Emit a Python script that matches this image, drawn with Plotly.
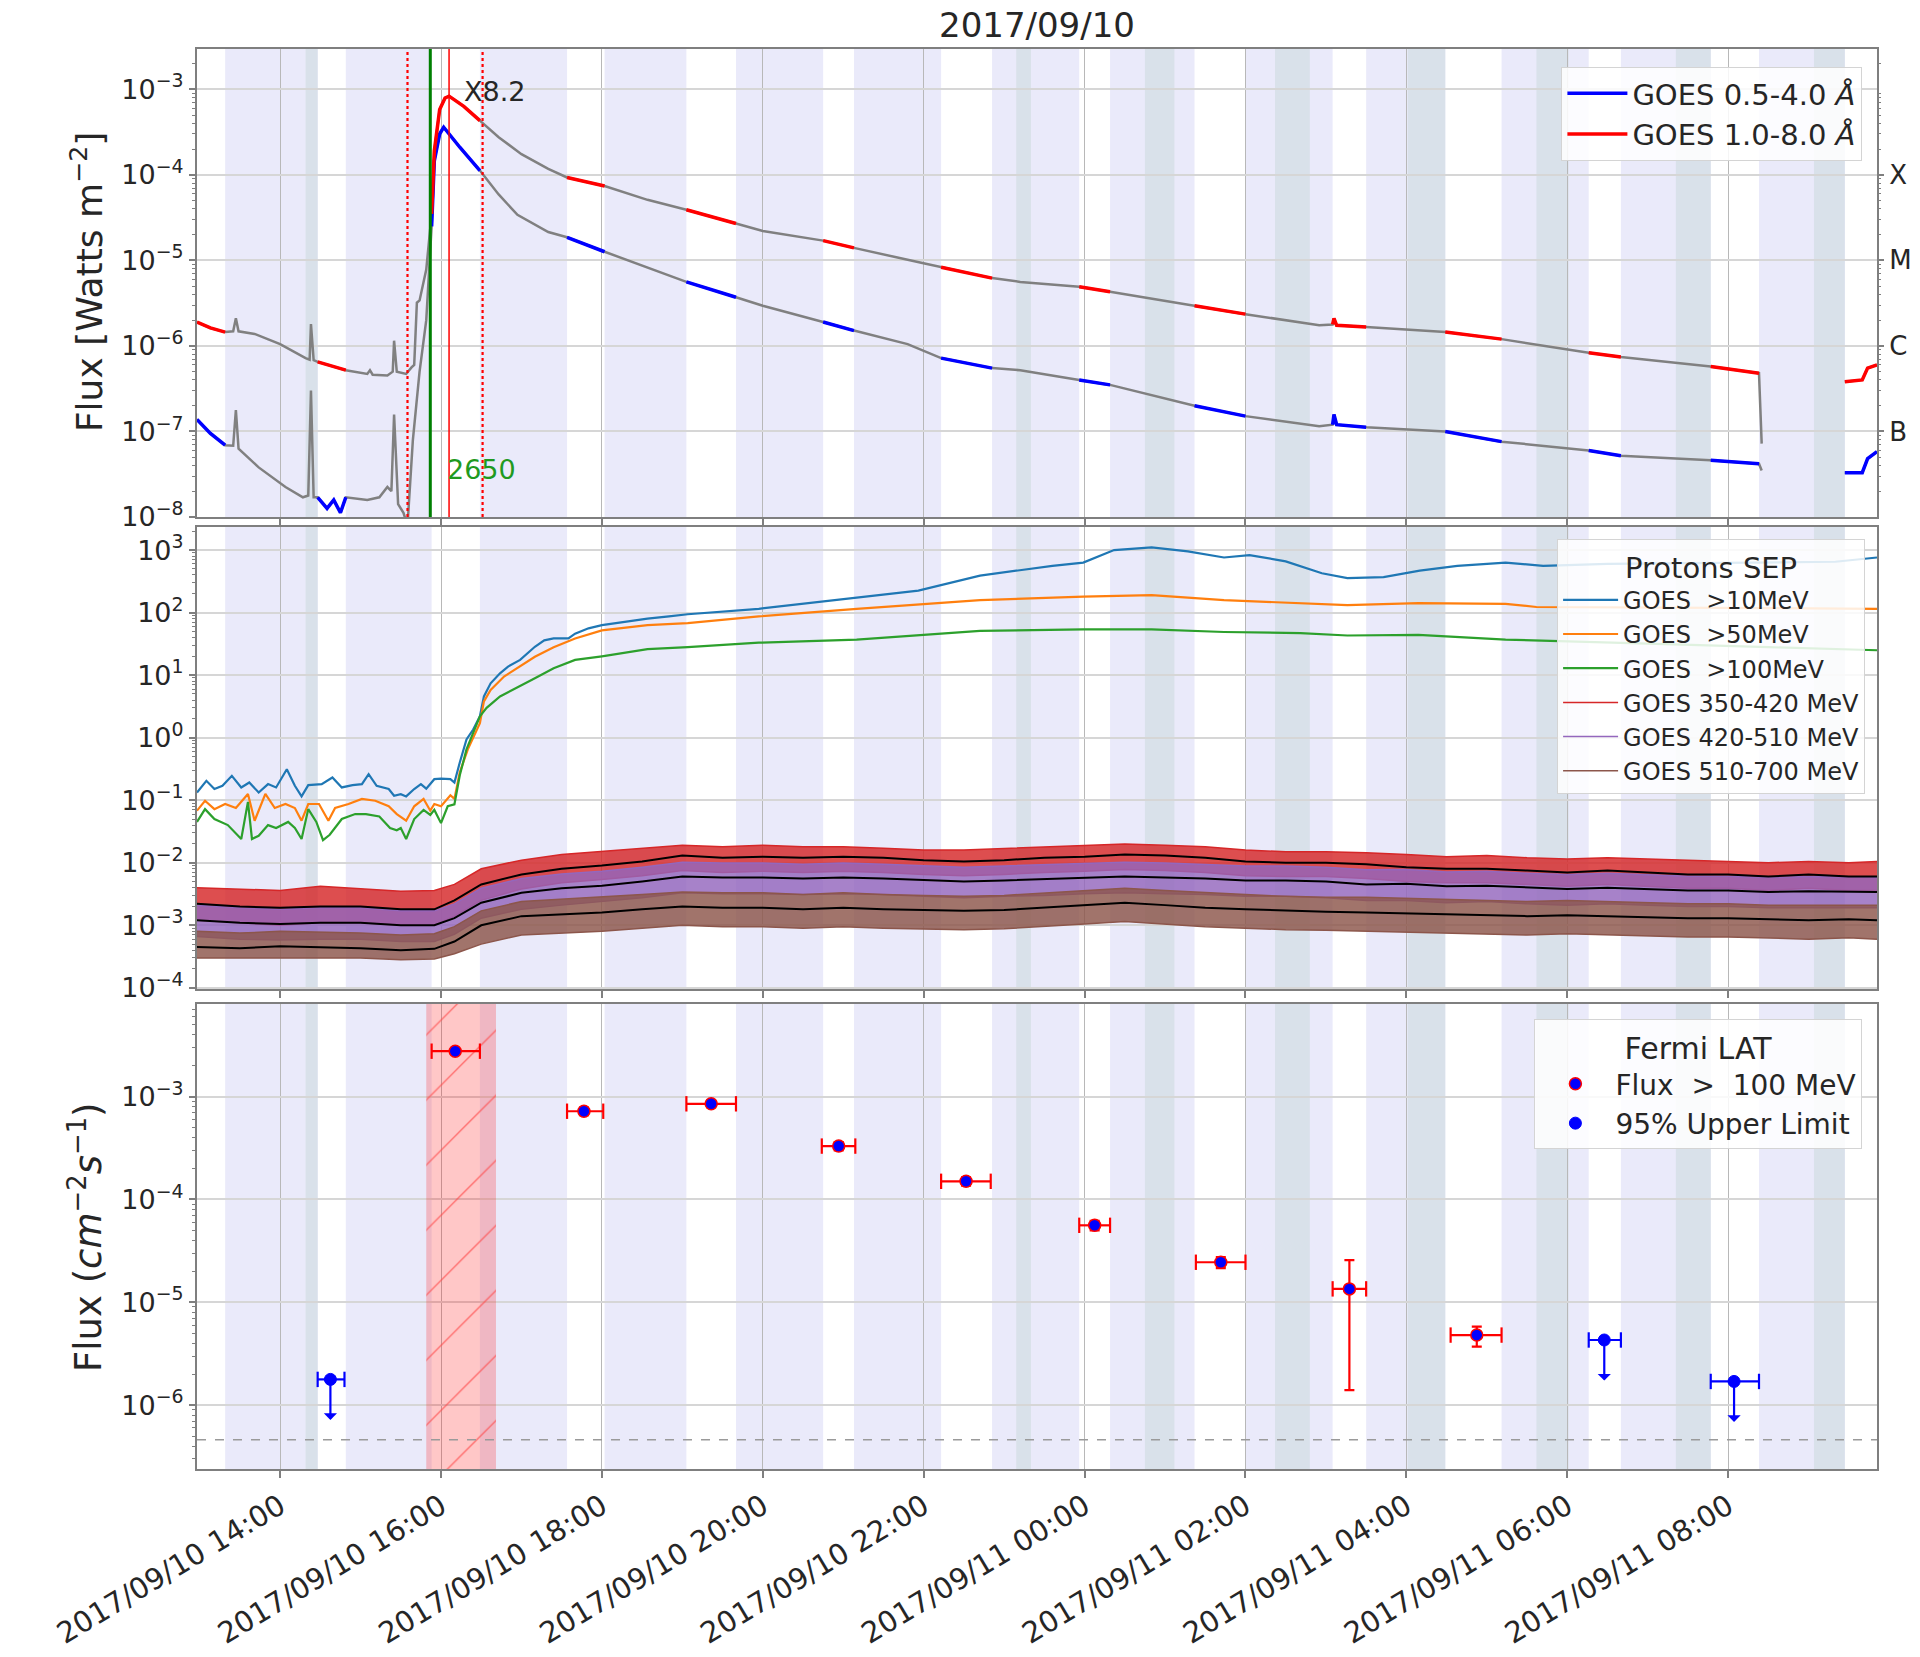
import math
import pandas as pd
import plotly.graph_objects as go

# ----------------------------------------------------------------- data
# times written as "DD HH:MM" in September 2017
X_RANGE = ["10 12:58", "11 09:51"]
TICK0 = "10 14:00"

# Fermi-LAT occultation (lavender) and SAA (grey-blue) intervals
occult_start = ["10 13:19", "10 14:49", "10 16:29", "10 18:02", "10 19:40", "10 21:08", "10 22:51",
                "11 00:19", "11 02:00", "11 03:30", "11 05:11", "11 06:40", "11 08:23"]
occult_end = ["10 14:28", "10 15:53", "10 17:34", "10 19:03", "10 20:45", "10 22:13", "10 23:56",
              "11 01:22", "11 03:05", "11 04:29", "11 06:16", "11 07:47", "11 09:27"]
saa_start = ["10 14:19", "10 23:09", "11 00:45", "11 02:22", "11 04:01", "11 05:37", "11 07:21", "11 09:04"]
saa_end = ["10 14:28", "10 23:20", "11 01:07", "11 02:48", "11 04:29", "11 06:01", "11 07:47", "11 09:27"]

# flare markers
flare_start, flare_peak, flare_end = "10 15:35", "10 16:06", "10 16:31"
green_time, green_label = "10 15:52", "2650"
flare_class = "X8.2"

# GOES X-ray 1.0-8.0 A
goes_long_time = ["10 12:58", "10 13:08", "10 13:19", "10 13:25", "10 13:27", "10 13:29", "10 13:41", "10 14:00",
                  "10 14:19", "10 14:22", "10 14:23", "10 14:25", "10 14:28", "10 14:49", "10 15:05", "10 15:07",
                  "10 15:09", "10 15:20", "10 15:24", "10 15:25", "10 15:27", "10 15:34", "10 15:38", "10 15:40",
                  "10 15:42", "10 15:44", "10 15:49", "10 15:53", "10 15:55", "10 15:59", "10 16:03", "10 16:06",
                  "10 16:12", "10 16:17", "10 16:29", "10 16:43", "10 17:00", "10 17:20", "10 17:34", "10 18:02",
                  "10 18:34", "10 19:03", "10 19:40", "10 20:00", "10 20:45", "10 21:08", "10 21:59", "10 22:13",
                  "10 22:51", "10 23:12", "10 23:56", "11 00:19", "11 01:22", "11 02:00", "11 02:55", "11 03:05",
                  "11 03:06", "11 03:08", "11 03:30", "11 04:29", "11 05:11", "11 06:16", "11 06:40", "11 07:47",
                  "11 08:23", "11 08:25", "11 08:50", "11 09:27", "11 09:40", "11 09:44", "11 09:51"]
goes_long_flux = [1.9e-6, 1.62e-6, 1.45e-6, 1.48e-6, 2.1e-6, 1.48e-6, 1.38e-6, 1.05e-6,
                  7.2e-7, 6.9e-7, 1.8e-6, 6.8e-7, 6.5e-7, 5.2e-7, 4.7e-7, 5.2e-7,
                  4.6e-7, 4.5e-7, 5.0e-7, 1.15e-6, 5.0e-7, 4.7e-7, 5.6e-7, 6.0e-7,
                  3.2e-6, 3.4e-6, 7.8e-6, 3.5e-5, 1.9e-4, 5.8e-4, 7.9e-4, 8.3e-4,
                  7.2e-4, 6.3e-4, 4.3e-4, 2.75e-4, 1.74e-4, 1.17e-4, 9.3e-5, 7.4e-5,
                  5.1e-5, 3.9e-5, 2.7e-5, 2.2e-5, 1.7e-5, 1.4e-5, 9.3e-6, 8.3e-6,
                  6.2e-6, 5.6e-6, 4.9e-6, 4.3e-6, 2.95e-6, 2.35e-6, 1.74e-6, 1.78e-6,
                  2.1e-6, 1.74e-6, 1.66e-6, 1.45e-6, 1.2e-6, 8.3e-7, 7.4e-7, 5.75e-7,
                  4.8e-7, 7.2e-8, None, 3.8e-7, 4.0e-7, 5.5e-7, 6.0e-7]

# GOES X-ray 0.5-4.0 A
goes_short_time = ["10 12:58", "10 13:08", "10 13:19", "10 13:25", "10 13:27", "10 13:29", "10 13:44", "10 14:04",
                   "10 14:17", "10 14:21", "10 14:23", "10 14:25", "10 14:28", "10 14:35", "10 14:40", "10 14:45",
                   "10 14:49", "10 15:05", "10 15:14", "10 15:20", "10 15:23", "10 15:25", "10 15:28", "10 15:32",
                   "10 15:35", "10 15:39", "10 15:44", "10 15:49", "10 15:53", "10 15:55", "10 15:59", "10 16:02",
                   "10 16:14", "10 16:29", "10 16:43", "10 16:57", "10 17:20", "10 17:34", "10 18:02", "10 18:31",
                   "10 19:03", "10 19:40", "10 20:00", "10 20:45", "10 21:08", "10 21:48", "10 22:13", "10 22:51",
                   "10 23:12", "10 23:56", "11 00:19", "11 01:22", "11 02:00", "11 02:55", "11 03:05", "11 03:06",
                   "11 03:08", "11 03:30", "11 04:29", "11 05:11", "11 06:16", "11 06:40", "11 07:47", "11 08:23",
                   "11 08:25", "11 08:50", "11 09:27", "11 09:40", "11 09:44", "11 09:51"]
goes_short_flux = [1.38e-7, 9.5e-8, 6.9e-8, 6.8e-8, 1.78e-7, 6.3e-8, 3.8e-8, 2.24e-8,
                   1.7e-8, 1.78e-8, 3.0e-7, 1.7e-8, 1.7e-8, 1.26e-8, 1.58e-8, 1.12e-8,
                   1.7e-8, 1.58e-8, 1.7e-8, 2.24e-8, 2.0e-8, 1.58e-7, 1.41e-8, 1.12e-8,
                   7.9e-9, 7.9e-8, 5.0e-7, 2.0e-6, 2.5e-5, 1.45e-4, 3.0e-4, 3.6e-4,
                   2.1e-4, 1.12e-4, 5.9e-5, 3.4e-5, 2.14e-5, 1.86e-5, 1.26e-5, 8.5e-6,
                   5.6e-6, 3.7e-6, 2.95e-6, 1.9e-6, 1.51e-6, 1.05e-6, 7.2e-7, 5.5e-7,
                   5.2e-7, 4.0e-7, 3.5e-7, 2.0e-7, 1.51e-7, 1.15e-7, 1.2e-7, 1.58e-7,
                   1.2e-7, 1.12e-7, 1.0e-7, 7.6e-8, 6.0e-8, 5.2e-8, 4.6e-8, 4.2e-8,
                   3.5e-8, None, 3.3e-8, 3.3e-8, 4.8e-8, 5.8e-8]

# GOES integral protons
p10_time = ["10 12:58", "10 13:05", "10 13:11", "10 13:17", "10 13:24", "10 13:31", "10 13:37", "10 13:44",
            "10 13:51", "10 13:57", "10 14:05", "10 14:11", "10 14:16", "10 14:21", "10 14:31", "10 14:39",
            "10 14:46", "10 14:54", "10 15:01", "10 15:06", "10 15:12", "10 15:21", "10 15:25", "10 15:30",
            "10 15:34", "10 15:40", "10 15:45", "10 15:49", "10 15:55", "10 16:00", "10 16:07", "10 16:10",
            "10 16:14", "10 16:19", "10 16:24", "10 16:29", "10 16:32", "10 16:37", "10 16:44", "10 16:50",
            "10 16:59", "10 17:10", "10 17:17", "10 17:24", "10 17:35", "10 17:40", "10 17:50", "10 18:00",
            "10 18:17", "10 18:34", "10 18:50", "10 19:04", "10 19:57", "10 21:10", "10 21:56", "10 22:42",
            "10 23:36", "10 23:59", "11 00:22", "11 00:50", "11 01:17", "11 01:44", "11 02:03", "11 02:30",
            "11 02:57", "11 03:16", "11 03:43", "11 04:10", "11 04:38", "11 05:14", "11 05:42", "11 06:30",
            "11 07:30", "11 08:30", "11 09:20", "11 09:51"]
p10_flux = [0.133, 0.204, 0.151, 0.170, 0.245, 0.160, 0.192, 0.133, 0.181, 0.160, 0.313, 0.170, 0.115, 0.174,
            0.181, 0.231, 0.160, 0.174, 0.181, 0.261, 0.170, 0.151, 0.118, 0.125, 0.115, 0.151, 0.181, 0.153,
            0.217, 0.222, 0.217, 0.192, 0.40, 0.94, 1.35, 2.2, 4.57, 7.4, 10.7, 13.7, 17.5, 28.4, 36, 38.6,
            38.6, 46, 56, 63, 71, 80, 87, 94, 115, 175, 225, 390, 560, 630, 1000, 1100, 950, 760, 830, 660,
            425, 355, 370, 470, 560, 630, 560, 600, 620, 640, 650, 760]

p50_time = ["10 12:58", "10 13:04", "10 13:11", "10 13:19", "10 13:27", "10 13:36", "10 13:41", "10 13:49",
            "10 13:56", "10 14:04", "10 14:11", "10 14:16", "10 14:21", "10 14:29", "10 14:36", "10 14:41",
            "10 14:51", "10 15:01", "10 15:11", "10 15:21", "10 15:27", "10 15:34", "10 15:40", "10 15:47",
            "10 15:52", "10 15:55", "10 16:00", "10 16:07", "10 16:10", "10 16:14", "10 16:20", "10 16:29",
            "10 16:32", "10 16:37", "10 16:47", "10 16:59", "10 17:10", "10 17:24", "10 17:40", "10 18:00",
            "10 18:34", "10 19:04", "10 19:57", "10 21:10", "10 22:42", "10 23:59", "11 00:50", "11 01:44",
            "11 02:30", "11 03:16", "11 04:09", "11 05:14", "11 05:37", "11 07:00", "11 08:30", "11 09:51"]
p50_flux = [0.068, 0.098, 0.072, 0.087, 0.075, 0.126, 0.047, 0.126, 0.075, 0.087, 0.075, 0.047, 0.087, 0.087,
            0.047, 0.075, 0.087, 0.105, 0.098, 0.080, 0.060, 0.047, 0.080, 0.105, 0.068, 0.087, 0.080, 0.12,
            0.105, 0.28, 0.65, 1.7, 3.8, 5.8, 9.5, 13.7, 19.7, 28, 38.6, 52, 63, 68, 87, 115, 158, 180, 190,
            158, 145, 132, 142, 138, 123, 122, 118, 115]

p100_time = ["10 12:58", "10 13:04", "10 13:11", "10 13:21", "10 13:31", "10 13:36", "10 13:39", "10 13:44",
             "10 13:51", "10 13:57", "10 14:06", "10 14:11", "10 14:16", "10 14:21", "10 14:27", "10 14:32",
             "10 14:37", "10 14:46", "10 14:56", "10 15:04", "10 15:14", "10 15:22", "10 15:27", "10 15:30",
             "10 15:34", "10 15:40", "10 15:47", "10 15:52", "10 15:55", "10 16:00", "10 16:05", "10 16:10",
             "10 16:14", "10 16:19", "10 16:29", "10 16:34", "10 16:44", "10 16:59", "10 17:10", "10 17:24",
             "10 17:40", "10 18:00", "10 18:34", "10 19:04", "10 19:57", "10 21:10", "10 22:42", "10 23:59",
             "11 00:50", "11 01:44", "11 02:41", "11 03:16", "11 04:09", "11 05:14", "11 05:37", "11 07:00",
             "11 08:30", "11 09:51"]
p100_flux = [0.045, 0.072, 0.050, 0.040, 0.024, 0.094, 0.024, 0.027, 0.040, 0.036, 0.045, 0.036, 0.024, 0.072,
             0.045, 0.023, 0.028, 0.050, 0.060, 0.060, 0.055, 0.036, 0.033, 0.036, 0.024, 0.050, 0.070, 0.058,
             0.070, 0.043, 0.080, 0.086, 0.25, 0.65, 2.2, 3.0, 4.57, 6.6, 8.9, 12.9, 17.5, 20, 26, 28, 33, 37,
             51, 54, 54, 49, 47, 43, 44, 37, 36, 32, 28, 25]

# GOES HEPAD differential channels: running median (black) and spread of the noisy data
hep_time = ["10 12:58", "10 13:30", "10 14:00", "10 14:30", "10 15:00", "10 15:30", "10 15:55", "10 16:10",
            "10 16:30", "10 17:00", "10 17:30", "10 18:00", "10 18:30", "10 19:00", "10 19:30", "10 20:00",
            "10 20:30", "10 21:00", "10 21:30", "10 22:00", "10 22:30", "10 23:00", "10 23:30", "11 00:00",
            "11 00:30", "11 01:00", "11 01:30", "11 02:00", "11 02:30", "11 03:00", "11 03:30", "11 04:00",
            "11 04:30", "11 05:00", "11 05:30", "11 06:00", "11 06:30", "11 07:00", "11 07:30", "11 08:00",
            "11 08:30", "11 09:00", "11 09:30", "11 09:51"]
p350_med = [2.2e-3, 2.0e-3, 1.9e-3, 2.0e-3, 2.0e-3, 1.8e-3, 1.8e-3, 2.5e-3, 4.5e-3, 6.5e-3, 8.0e-3, 9.0e-3,
            1.05e-2, 1.3e-2, 1.2e-2, 1.25e-2, 1.2e-2, 1.25e-2, 1.2e-2, 1.1e-2, 1.05e-2, 1.1e-2, 1.2e-2, 1.25e-2,
            1.35e-2, 1.3e-2, 1.2e-2, 1.05e-2, 1.0e-2, 1.0e-2, 9.5e-3, 8.5e-3, 8.0e-3, 8.0e-3, 7.5e-3, 7.0e-3,
            7.5e-3, 7.0e-3, 6.5e-3, 6.5e-3, 6.0e-3, 6.5e-3, 6.0e-3, 6.0e-3]
p350_hi = [4.0e-3, 3.8e-3, 3.6e-3, 4.2e-3, 3.8e-3, 3.5e-3, 3.6e-3, 4.5e-3, 8.0e-3, 1.1e-2, 1.35e-2, 1.5e-2,
           1.7e-2, 1.9e-2, 1.8e-2, 1.9e-2, 1.8e-2, 1.8e-2, 1.7e-2, 1.6e-2, 1.6e-2, 1.7e-2, 1.8e-2, 1.9e-2,
           2.0e-2, 1.9e-2, 1.8e-2, 1.6e-2, 1.5e-2, 1.5e-2, 1.45e-2, 1.35e-2, 1.25e-2, 1.3e-2, 1.2e-2, 1.15e-2,
           1.2e-2, 1.15e-2, 1.1e-2, 1.05e-2, 1.0e-2, 1.05e-2, 1.0e-2, 1.05e-2]
p350_lo = [1.2e-3, 1.1e-3, 1.0e-3, 1.1e-3, 1.1e-3, 1.0e-3, 1.0e-3, 1.4e-3, 2.5e-3, 3.8e-3, 4.8e-3, 5.4e-3,
           6.2e-3, 7.5e-3, 7.0e-3, 7.3e-3, 7.0e-3, 7.3e-3, 7.0e-3, 6.5e-3, 6.2e-3, 6.5e-3, 7.0e-3, 7.3e-3,
           7.8e-3, 7.5e-3, 7.0e-3, 6.2e-3, 6.0e-3, 6.0e-3, 5.6e-3, 5.0e-3, 4.8e-3, 4.8e-3, 4.5e-3, 4.2e-3,
           4.5e-3, 4.2e-3, 3.9e-3, 3.9e-3, 3.6e-3, 3.9e-3, 3.6e-3, 3.6e-3]
p420_med = [1.2e-3, 1.1e-3, 1.05e-3, 1.1e-3, 1.1e-3, 1.0e-3, 1.0e-3, 1.3e-3, 2.3e-3, 3.3e-3, 3.9e-3, 4.3e-3,
            5.0e-3, 6.0e-3, 5.8e-3, 5.8e-3, 5.6e-3, 5.8e-3, 5.6e-3, 5.3e-3, 5.0e-3, 5.2e-3, 5.5e-3, 5.8e-3,
            6.0e-3, 5.8e-3, 5.6e-3, 5.2e-3, 5.2e-3, 5.0e-3, 4.5e-3, 4.6e-3, 4.2e-3, 4.3e-3, 4.0e-3, 3.8e-3,
            4.0e-3, 3.8e-3, 3.6e-3, 3.6e-3, 3.4e-3, 3.5e-3, 3.4e-3, 3.4e-3]
p420_hi = [2.1e-3, 1.9e-3, 1.8e-3, 1.9e-3, 1.9e-3, 1.7e-3, 1.7e-3, 2.2e-3, 3.9e-3, 5.6e-3, 6.6e-3, 7.3e-3,
           8.5e-3, 1.02e-2, 9.9e-3, 9.9e-3, 9.5e-3, 9.9e-3, 9.5e-3, 9.0e-3, 8.5e-3, 8.9e-3, 9.4e-3, 9.9e-3,
           1.02e-2, 9.9e-3, 9.5e-3, 8.9e-3, 8.9e-3, 8.5e-3, 7.7e-3, 7.8e-3, 7.1e-3, 7.3e-3, 6.8e-3, 6.5e-3,
           6.8e-3, 6.5e-3, 6.1e-3, 6.1e-3, 5.8e-3, 6.0e-3, 5.8e-3, 5.8e-3]
p420_lo = [6.6e-4, 6.0e-4, 5.8e-4, 6.0e-4, 6.0e-4, 5.5e-4, 5.5e-4, 7.2e-4, 1.3e-3, 1.8e-3, 2.1e-3, 2.4e-3,
           2.75e-3, 3.3e-3, 3.2e-3, 3.2e-3, 3.1e-3, 3.2e-3, 3.1e-3, 2.9e-3, 2.75e-3, 2.9e-3, 3.0e-3, 3.2e-3,
           3.3e-3, 3.2e-3, 3.1e-3, 2.9e-3, 2.9e-3, 2.75e-3, 2.5e-3, 2.5e-3, 2.3e-3, 2.4e-3, 2.2e-3, 2.1e-3,
           2.2e-3, 2.1e-3, 2.0e-3, 2.0e-3, 1.9e-3, 1.9e-3, 1.9e-3, 1.9e-3]
p510_med = [4.5e-4, 4.3e-4, 4.6e-4, 4.4e-4, 4.3e-4, 4.0e-4, 4.2e-4, 5.5e-4, 1.0e-3, 1.4e-3, 1.5e-3, 1.6e-3,
            1.8e-3, 2.0e-3, 1.9e-3, 1.9e-3, 1.8e-3, 1.9e-3, 1.8e-3, 1.75e-3, 1.7e-3, 1.75e-3, 1.9e-3, 2.1e-3,
            2.3e-3, 2.1e-3, 1.9e-3, 1.8e-3, 1.7e-3, 1.65e-3, 1.6e-3, 1.55e-3, 1.5e-3, 1.45e-3, 1.4e-3, 1.45e-3,
            1.4e-3, 1.35e-3, 1.3e-3, 1.3e-3, 1.25e-3, 1.2e-3, 1.25e-3, 1.2e-3]
p510_hi = [8.0e-4, 7.5e-4, 8.0e-4, 7.8e-4, 7.5e-4, 7.0e-4, 7.3e-4, 9.5e-4, 1.7e-3, 2.4e-3, 2.6e-3, 2.8e-3,
           3.1e-3, 3.4e-3, 3.3e-3, 3.3e-3, 3.1e-3, 3.3e-3, 3.1e-3, 3.0e-3, 2.9e-3, 3.0e-3, 3.3e-3, 3.6e-3,
           3.9e-3, 3.6e-3, 3.3e-3, 3.1e-3, 2.9e-3, 2.8e-3, 2.8e-3, 2.7e-3, 2.6e-3, 2.5e-3, 2.4e-3, 2.5e-3,
           2.4e-3, 2.3e-3, 2.2e-3, 2.2e-3, 2.1e-3, 2.1e-3, 2.1e-3, 2.1e-3]
p510_lo = [3.0e-4, 3.0e-4, 3.0e-4, 3.0e-4, 3.0e-4, 2.8e-4, 2.9e-4, 3.5e-4, 5.0e-4, 7.0e-4, 7.5e-4, 8.0e-4,
           9.0e-4, 1.0e-3, 9.5e-4, 9.5e-4, 9.0e-4, 9.5e-4, 9.0e-4, 8.8e-4, 8.5e-4, 8.8e-4, 9.5e-4, 1.05e-3,
           1.15e-3, 1.05e-3, 9.5e-4, 9.0e-4, 8.5e-4, 8.3e-4, 8.0e-4, 7.8e-4, 7.5e-4, 7.3e-4, 7.0e-4, 7.3e-4,
           7.0e-4, 6.8e-4, 6.5e-4, 6.5e-4, 6.3e-4, 6.0e-4, 6.3e-4, 6.0e-4]

# Fermi-LAT > 100 MeV light curve
fermi_time = ["10 16:10:36", "10 17:46:36", "10 19:21:30", "10 20:56:36", "10 22:31:36", "11 00:07:30",
              "11 01:41:36", "11 03:17:30", "11 04:52:30"]
fermi_tstart = ["10 15:53", "10 17:34", "10 19:03", "10 20:44", "10 22:13", "10 23:56", "11 01:23",
                "11 03:05", "11 04:33"]
fermi_tstop = ["10 16:29", "10 18:01", "10 19:40", "10 21:09", "10 22:50", "11 00:19", "11 02:00",
               "11 03:30", "11 05:11"]
fermi_flux = [2.76e-3, 7.2e-4, 8.5e-4, 3.3e-4, 1.5e-4, 5.6e-5, 2.45e-5, 1.35e-5, 4.8e-6]
fermi_err_up = [1.5e-4, 6e-5, 6e-5, 3e-5, 1.4e-5, 6e-6, 3e-6, 1.22e-5, 1.0e-6]
fermi_err_dn = [1.5e-4, 6e-5, 6e-5, 3e-5, 1.4e-5, 6e-6, 3e-6, 1.21e-5, 1.1e-6]
ul_time = ["10 14:37:30", "11 06:27:36", "11 08:04:24"]
ul_tstart = ["10 14:28", "11 06:16", "11 07:47"]
ul_tstop = ["10 14:48", "11 06:40", "11 08:23"]
ul_flux = [1.78e-6, 4.3e-6, 1.7e-6]
fermi_window = ["10 15:49", "10 16:41"]
lat_threshold = 4.6e-7

# ----------------------------------------------------------------- helpers / style
FONT = "DejaVu Sans"
TXT = "#262626"
FRAME = "#7f7f7f"
LAVENDER = "#EAEAFA"
SAA = "#D9E1EA"
XDOM = [0.1026, 0.9776]
Y1_RANGE = [-8.0, -2.53]
Y3_RANGE = [-4.02, 3.37]
Y4_RANGE = [-6.62, -2.10]


def T(s):
    d, hm = s.split(" ")
    return pd.Timestamp(f"2017-09-{d} {hm}")


def iso(s):
    return T(s).strftime("%Y-%m-%d %H:%M:%S")


fig = go.Figure()

# Fermi "Sun visible" windows = gaps between occultations
gaps = [(T(X_RANGE[0]), T(occult_start[0]))]
gaps += [(T(occult_end[i]), T(occult_start[i + 1])) for i in range(len(occult_start) - 1)]
gaps += [(T(occult_end[-1]), T(X_RANGE[1]))]


def segments(times, flux):
    out = []
    for a, b in gaps:
        xs, ys = [], []
        for t, f in zip(times, flux):
            if f is not None and a <= T(t) <= b:
                xs.append(iso(t))
                ys.append(f)
        if len(xs) > 1:
            out.append((xs, ys))
    return out


# ---- top panel: GOES X-rays
for times, flux in [(goes_long_time, goes_long_flux), (goes_short_time, goes_short_flux)]:
    fig.add_trace(go.Scatter(x=[iso(t) for t in times], y=flux, mode="lines",
                             line=dict(color="#808080", width=2.5), showlegend=False,
                             xaxis="x", yaxis="y", hoverinfo="skip"))
for times, flux, color, name, rank in [
        (goes_short_time, goes_short_flux, "#0000ff", "GOES 0.5-4.0 <i>Å</i>", 1),
        (goes_long_time, goes_long_flux, "#ff0000", "GOES 1.0-8.0 <i>Å</i>", 2)]:
    for k, (xs, ys) in enumerate(segments(times, flux)):
        fig.add_trace(go.Scatter(x=xs, y=ys, mode="lines", line=dict(color=color, width=3.5),
                                 name=name, legendgroup=name, showlegend=(k == 0), legendrank=rank,
                                 legend="legend", xaxis="x", yaxis="y"))
# anchor trace for the right-hand GOES class axis
fig.add_trace(go.Scatter(x=[iso(goes_long_time[0])], y=[goes_long_flux[0]], mode="markers",
                         marker=dict(opacity=0), showlegend=False, hoverinfo="skip",
                         xaxis="x", yaxis="y2"))

# ---- middle panel: protons
for times, lo, hi, color, fillc, name, rank in [
        (hep_time, p350_lo, p350_hi, "#d62728", "rgba(214,39,40,0.82)", "GOES 350-420 MeV", 4),
        (hep_time, p420_lo, p420_hi, "#9467bd", "rgba(148,103,189,0.82)", "GOES 420-510 MeV", 5),
        (hep_time, p510_lo, p510_hi, "#8c564b", "rgba(140,86,75,0.82)", "GOES 510-700 MeV", 6)]:
    xs = [iso(t) for t in times]
    fig.add_trace(go.Scatter(x=xs, y=lo, mode="lines", line=dict(color=color, width=1.5),
                             name=name, legendrank=rank, legend="legend2", xaxis="x2", yaxis="y3"))
    fig.add_trace(go.Scatter(x=xs, y=hi, mode="lines", line=dict(color=color, width=1.5),
                             fill="tonexty", fillcolor=fillc, showlegend=False,
                             xaxis="x2", yaxis="y3", hoverinfo="skip"))
for med in [p350_med, p420_med, p510_med]:
    fig.add_trace(go.Scatter(x=[iso(t) for t in hep_time], y=med, mode="lines",
                             line=dict(color="black", width=2), showlegend=False,
                             xaxis="x2", yaxis="y3"))
for times, flux, color, name, rank in [
        (p10_time, p10_flux, "#1f77b4", "GOES  >10MeV", 1),
        (p50_time, p50_flux, "#ff7f0e", "GOES  >50MeV", 2),
        (p100_time, p100_flux, "#2ca02c", "GOES  >100MeV", 3)]:
    fig.add_trace(go.Scatter(x=[iso(t) for t in times], y=flux, mode="lines",
                             line=dict(color=color, width=2.2), name=name, legendrank=rank,
                             legend="legend2", xaxis="x2", yaxis="y3"))

# ---- bottom panel: Fermi-LAT
fig.add_trace(go.Scatter(
    x=[iso(fermi_window[0]), iso(fermi_window[0]), iso(fermi_window[1]), iso(fermi_window[1]),
       iso(fermi_window[0])],
    y=[10 ** (Y4_RANGE[0] - 1), 10 ** (Y4_RANGE[1] + 1), 10 ** (Y4_RANGE[1] + 1),
       10 ** (Y4_RANGE[0] - 1), 10 ** (Y4_RANGE[0] - 1)],
    mode="lines", line=dict(width=0), fill="toself", fillcolor="rgba(255,0,0,0.22)",
    fillpattern=dict(shape="/", size=46, solidity=0.03, fgcolor="rgba(255,70,70,0.7)",
                     bgcolor="rgba(255,0,0,0.22)", fillmode="replace"),
    showlegend=False, hoverinfo="skip", xaxis="x3", yaxis="y4"))
fig.add_trace(go.Scatter(x=[iso(X_RANGE[0]), iso(X_RANGE[1])], y=[lat_threshold, lat_threshold],
                         mode="lines", line=dict(color="#9a9a9a", width=1.5, dash="dash"),
                         showlegend=False, hoverinfo="skip", xaxis="x3", yaxis="y4"))


def time_bars(tstart, tstop, flux, color):
    xs, ys = [], []
    for a, b, f in zip(tstart, tstop, flux):
        xs += [iso(a), iso(b), None]
        ys += [f, f, None]
    return go.Scatter(x=xs, y=ys, mode="lines+markers", line=dict(color=color, width=2.2),
                      marker=dict(symbol="line-ns", size=11, line=dict(color=color, width=2.2)),
                      showlegend=False, hoverinfo="skip", xaxis="x3", yaxis="y4")


fig.add_trace(time_bars(fermi_tstart, fermi_tstop, fermi_flux, "#ff0000"))
fig.add_trace(time_bars(ul_tstart, ul_tstop, ul_flux, "#0000ff"))

fig.add_trace(go.Scatter(
    x=[iso(t) for t in fermi_time], y=fermi_flux, mode="markers",
    marker=dict(color="#0000ff", size=12, line=dict(color="#ff0000", width=1.5)),
    error_y=dict(type="data", symmetric=False, array=fermi_err_up, arrayminus=fermi_err_dn,
                 color="#ff0000", thickness=2.2, width=5),
    name="Flux  >  100 MeV", legendrank=1, legend="legend3", xaxis="x3", yaxis="y4"))
fig.add_trace(go.Scatter(
    x=[iso(t) for t in ul_time], y=ul_flux, mode="markers",
    marker=dict(color="#0000ff", size=12, line=dict(color="#0000ff", width=1)),
    name="95% Upper Limit", legendrank=2, legend="legend3", xaxis="x3", yaxis="y4"))

# ----------------------------------------------------------------- shapes
shapes = []
for xr, yr in [("x", "y"), ("x2", "y3"), ("x3", "y4")]:
    for a, b in zip(occult_start, occult_end):
        shapes.append(dict(type="rect", xref=xr, yref=f"{yr} domain", x0=iso(a), x1=iso(b), y0=0, y1=1,
                           fillcolor=LAVENDER, line=dict(width=0), layer="below"))
    for a, b in zip(saa_start, saa_end):
        shapes.append(dict(type="rect", xref=xr, yref=f"{yr} domain", x0=iso(a), x1=iso(b), y0=0, y1=1,
                           fillcolor=SAA, line=dict(width=0), layer="below"))
for t, col, dash, w in [(flare_start, "#ff0000", "dot", 2.2), (flare_end, "#ff0000", "dot", 2.2),
                        (flare_peak, "#ff0000", "solid", 1.5), (green_time, "#008000", "solid", 3)]:
    shapes.append(dict(type="line", xref="x", yref="y domain", x0=iso(t), x1=iso(t), y0=0, y1=1,
                       line=dict(color=col, width=w, dash=dash)))

# ----------------------------------------------------------------- annotations
annotations = [
    dict(text="2017/09/10", x=0.5401, y=0.9852, xref="paper", yref="paper", showarrow=False,
         xanchor="center", yanchor="middle", font=dict(family=FONT, size=34, color=TXT)),
    dict(text="Flux [Watts m<sup>−2</sup>]", x=0.0450, y=0.830, xref="paper", yref="paper",
         showarrow=False, textangle=-90, xanchor="center", yanchor="middle",
         font=dict(family=FONT, size=36, color=TXT)),
    dict(text="Flux (<i>cm</i><sup>−2</sup><i>s</i><sup>−1</sup>)", x=0.0450, y=0.2537, xref="paper",
         yref="paper", showarrow=False, textangle=-90, xanchor="center", yanchor="middle",
         font=dict(family=FONT, size=37, color=TXT)),
    dict(text=flare_class, x=iso("10 16:16"), y=-3.03, xref="x", yref="y", showarrow=False,
         xanchor="left", yanchor="middle", font=dict(family=FONT, size=27, color=TXT)),
    dict(text=green_label, x=iso("10 16:03"), y=-7.45, xref="x", yref="y", showarrow=False,
         xanchor="left", yanchor="middle", font=dict(family=FONT, size=27, color="#1f9a1f")),
]
for t, f in zip(ul_time, ul_flux):
    annotations.append(dict(text="", x=iso(t), y=math.log10(f), xref="x3", yref="y4",
                            ax=0, ay=42, axref="pixel", ayref="pixel", showarrow=True,
                            arrowhead=2, arrowside="start", arrowsize=1.2, arrowwidth=2.2,
                            arrowcolor="#0000ff"))

# ----------------------------------------------------------------- axes


def log_ticks(lo, hi):
    vals = [10.0 ** e for e in range(lo, hi + 1)]
    text = [f"10<sup>{'−' if e < 0 else ''}{abs(e)}</sup>" for e in range(lo, hi + 1)]
    return vals, text


MINOR_VALS = [m * 10.0 ** e for e in range(-10, 4) for m in range(2, 10)]
tickfont = dict(family=FONT, size=27, color=TXT)

xcommon = dict(type="date", range=[iso(X_RANGE[0]), iso(X_RANGE[1])], domain=XDOM,
               dtick=2 * 3600 * 1000, tick0=iso(TICK0), showgrid=True, gridcolor="#b8b8b8",
               gridwidth=1.2, showline=True, linecolor=FRAME, linewidth=2, mirror=True,
               ticks="outside", ticklen=7, tickwidth=1.5, tickcolor=FRAME, zeroline=False)


def yaxis(dom, rng, lo, hi, anchor):
    v, t = log_ticks(lo, hi)
    return dict(type="log", range=rng, domain=dom, anchor=anchor, tickmode="array", tickvals=v,
                ticktext=t, tickfont=tickfont, showgrid=True, gridcolor="#d6d6d6", gridwidth=2,
                showline=True, linecolor=FRAME, linewidth=2, mirror=True, ticks="outside",
                ticklen=6, tickwidth=1.5, tickcolor=FRAME, zeroline=False,
                minor=dict(tickmode="array", tickvals=MINOR_VALS, ticks="outside", ticklen=3,
                           tickwidth=1, tickcolor=FRAME, showgrid=False))


legend_common = dict(xanchor="right", yanchor="top", bgcolor="rgba(255,255,255,0.85)",
                     bordercolor="#d4d4d4", borderwidth=1, tracegroupgap=0)

fig.update_layout(
    width=1920, height=1657, template="none",
    margin=dict(l=0, r=0, t=0, b=0, autoexpand=False),
    paper_bgcolor="white", plot_bgcolor="white",
    font=dict(family=FONT, color=TXT),
    xaxis=dict(**xcommon, anchor="y", showticklabels=False),
    xaxis2=dict(**xcommon, anchor="y3", matches="x", showticklabels=False),
    xaxis3=dict(**xcommon, anchor="y4", matches="x", showticklabels=True,
                tickformat="%Y/%m/%d %H:%M", tickangle=-31,
                tickfont=dict(family=FONT, size=29, color=TXT)),
    yaxis=yaxis([0.688, 0.9704], Y1_RANGE, -8, -3, "x"),
    yaxis2=dict(type="log", range=Y1_RANGE, overlaying="y", side="right", anchor="x",
                tickmode="array", tickvals=[1e-4, 1e-5, 1e-6, 1e-7], ticktext=["X", "M", "C", "B"],
                tickfont=dict(family=FONT, size=26, color=TXT), showgrid=False, showline=False,
                ticks="outside", ticklen=6, tickwidth=1.5, tickcolor=FRAME, zeroline=False,
                minor=dict(tickmode="array", tickvals=MINOR_VALS, ticks="outside", ticklen=3,
                           tickwidth=1, tickcolor=FRAME, showgrid=False)),
    yaxis3=yaxis([0.4031, 0.682], Y3_RANGE, -4, 3, "x2"),
    yaxis4=yaxis([0.1135, 0.3941], Y4_RANGE, -6, -3, "x3"),
    legend=dict(**legend_common, x=0.970, y=0.9596, itemwidth=60,
                font=dict(family=FONT, size=29, color=TXT)),
    legend2=dict(**legend_common, x=0.9714, y=0.6747, itemwidth=55,
                 font=dict(family=FONT, size=24, color=TXT),
                 title=dict(text="Protons SEP", side="top center",
                            font=dict(family=FONT, size=29, color=TXT))),
    legend3=dict(**legend_common, x=0.970, y=0.385, itemwidth=70,
                 font=dict(family=FONT, size=28, color=TXT),
                 title=dict(text="Fermi LAT", side="top center",
                            font=dict(family=FONT, size=30, color=TXT))),
    shapes=shapes, annotations=annotations, hovermode=False,
)

fig.write_html("out.html")
